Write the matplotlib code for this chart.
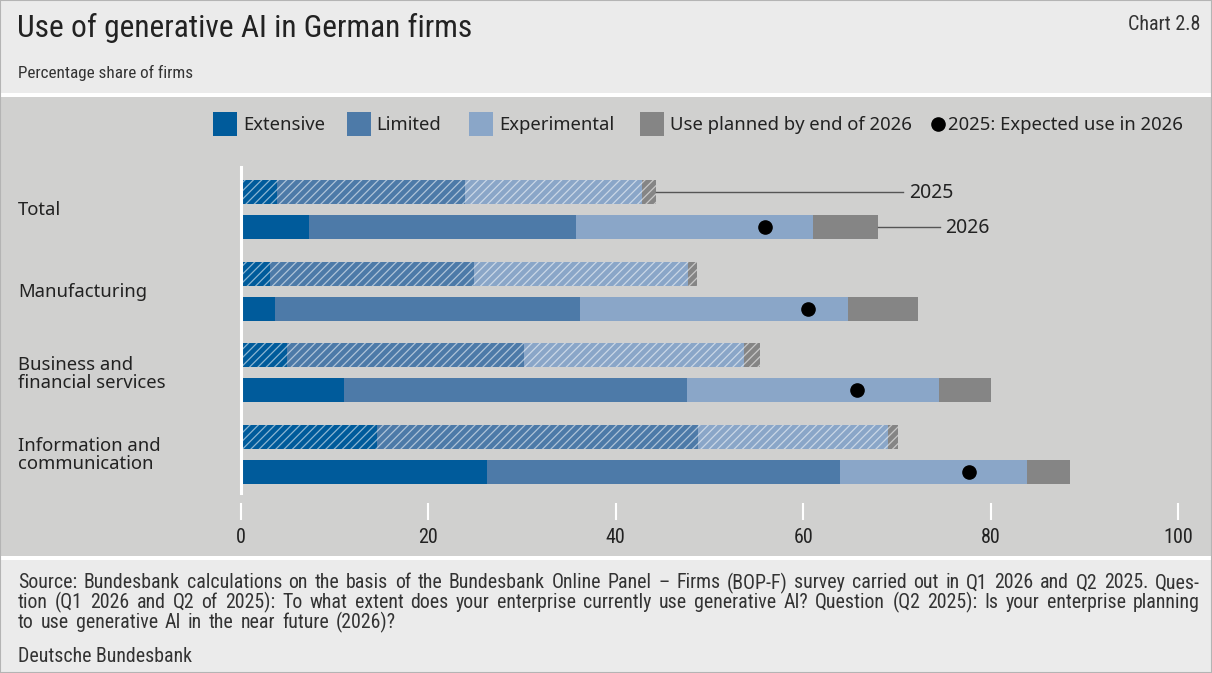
import numpy as np
import matplotlib
matplotlib.use('Agg')
import matplotlib.pyplot as plt
from matplotlib.patches import Rectangle
from matplotlib.transforms import blended_transform_factory

# Sectors and survey waves
sectors = ['Total', 'Manufacturing', 'Business and\nfinancial services',
           'Information and\ncommunication']
years = ['2025', '2026']

# Share of firms per intensity of use (percent), 2025 wave
extensive_2025 = [3.8, 3.1, 4.9, 14.5]
limited_2025 = [20.1, 21.8, 25.3, 34.3]
experimental_2025 = [18.9, 22.8, 23.5, 20.2]
planned_2025 = [1.5, 1.0, 1.7, 1.1]

# 2026 wave
extensive_2026 = [7.3, 3.6, 11.0, 26.3]
limited_2026 = [28.4, 32.6, 36.6, 37.6]
experimental_2026 = [25.3, 28.6, 26.9, 20.0]
planned_2026 = [7.0, 7.4, 5.5, 4.6]

# Expected use in 2026 as stated in the 2025 wave
expected_2026 = [55.9, 60.5, 65.7, 77.7]

series_names = ['Extensive', 'Limited', 'Experimental', 'Use planned by end of 2026']
colors = ['#005b9b', '#4d7aa8', '#8aa6c8', '#858585']

W, H = 1212, 673
BG_LIGHT = '#ebebeb'
BG_PLOT = '#d0d0cf'
TEXT = '#222222'
NARROW = ['Roboto Condensed', 'DejaVu Sans Condensed', 'Liberation Sans Narrow', 'Roboto']
REGULAR = ['Noto Sans', 'DejaVu Sans']
FS = 13.3

plt.rcParams['hatch.linewidth'] = 0.9

fig = plt.figure(figsize=(W / 100, H / 100), dpi=100)
fig.patch.set_facecolor('white')


def fx(px):
    return px / W


def fy(py):
    return 1 - py / H


def band(y0, y1, color):
    fig.add_artist(Rectangle((0, fy(y1)), 1, fy(y0) - fy(y1), transform=fig.transFigure,
                             facecolor=color, edgecolor='none', zorder=-10))


# background panels
band(0, 93, BG_LIGHT)
band(97, 556, BG_PLOT)
band(560, H, BG_LIGHT)
fig.add_artist(Rectangle((0, 0), 1, 1, transform=fig.transFigure, facecolor='none',
                         edgecolor='#b4b4b4', linewidth=1.5, zorder=-5))

# header
fig.text(fx(17), fy(28), 'Use of generative AI in German firms', family=NARROW,
         fontsize=22.7, color=TEXT, va='center', ha='left')
fig.text(fx(1200), fy(25), 'Chart 2.8', family=NARROW, fontsize=14.5,
         color='#333333', va='center', ha='right')
fig.text(fx(18), fy(73), 'Percentage share of firms', family=NARROW, fontsize=12.3,
         color='#333333', va='center', ha='left')

# legend
legend_items = [(213, 243), (347, 376), (469, 499), (640, 670)]
for (sx, tx), name, c in zip(legend_items, series_names, colors):
    fig.add_artist(Rectangle((fx(sx), fy(136)), 24 / W, 24 / H, transform=fig.transFigure,
                             facecolor=c, edgecolor='none'))
    fig.text(fx(tx), fy(125), name, family=REGULAR, fontsize=FS, color=TEXT,
             va='center', ha='left')
fig.add_artist(plt.Line2D([fx(938)], [fy(124)], marker='o', markersize=9.5,
                          color='black', transform=fig.transFigure))
fig.text(fx(948), fy(125), '2025: Expected use in 2026', family=REGULAR,
         fontsize=FS, color=TEXT, va='center', ha='left')

# plot area
ax_top, ax_bottom = 160, 503
ax = fig.add_axes([fx(241), fy(ax_bottom), (1178 - 241) / W, (ax_bottom - ax_top) / H])
ax.set_facecolor('none')

group_px = 81.7
offset = 35 / group_px
bar_h = 24 / group_px
ax.set_xlim(0, 100)
ax.set_ylim((ax_bottom - 192) / group_px, (ax_top - 192) / group_px)

pos = np.arange(len(sectors))
data = {
    '2025': [extensive_2025, limited_2025, experimental_2025, planned_2025],
    '2026': [extensive_2026, limited_2026, experimental_2026, planned_2026],
}
ends = {}
for k, yr in enumerate(years):
    y = pos + k * offset
    left = np.zeros(len(sectors))
    for vals, c in zip(data[yr], colors):
        vals = np.array(vals)
        if yr == '2025':
            ax.barh(y, vals, left=left, height=bar_h, color=c,
                    edgecolor=(1, 1, 1, 0.55), linewidth=0, hatch='////')
        else:
            ax.barh(y, vals, left=left, height=bar_h, color=c, linewidth=0)
        left = left + vals
    ends[yr] = left

ax.plot(expected_2026, pos + offset, 'o', color='black', markersize=9.5, zorder=5)

# year callouts on the first group
for k, (yr, line_end, label_x) in enumerate([('2025', 70.7, 71.3), ('2026', 74.6, 75.2)]):
    yv = pos[0] + k * offset
    ax.plot([ends[yr][0], line_end], [yv, yv], color='#555555', linewidth=1)
    ax.text(label_x, yv + 0.01, yr, family=REGULAR, fontsize=14, color=TEXT,
            va='center', ha='left')

# sector labels
label_tf = blended_transform_factory(fig.transFigure, ax.transData)
for i, name in enumerate(sectors):
    ax.text(fx(18), pos[i] + offset / 2 + 0.01, name, transform=label_tf,
            family=REGULAR, fontsize=FS, color=TEXT, va='center', ha='left',
            linespacing=1.0)

for s in ['top', 'right', 'bottom']:
    ax.spines[s].set_visible(False)
ax.spines['left'].set_color('white')
ax.spines['left'].set_linewidth(2.2)
ax.spines['left'].set_bounds((493 - 192) / group_px, (167 - 192) / group_px)
ax.set_yticks([])
ax.set_xticks(np.arange(0, 101, 20))
ax.tick_params(axis='x', length=12, width=1.5, color='white', pad=6,
               labelsize=14.5, labelcolor=TEXT)
for lab in ax.get_xticklabels():
    lab.set_family(NARROW)

# footer, justified lines (last line keeps the average word gap)
footer_lines = [
    'Source: Bundesbank calculations on the basis of the Bundesbank Online Panel \u2013 '
    'Firms (BOP-F) survey carried out in Q1 2026 and Q2 2025. Ques-',
    'tion (Q1 2026 and Q2 of 2025): To what extent does your enterprise currently use '
    'generative AI? Question (Q2 2025): Is your enterprise planning',
    'to use generative AI in the near future (2026)?',
]
FOOT = 14.3
renderer = fig.canvas.get_renderer()
x0, x1 = 18, 1200
gaps = []
for i, line in enumerate(footer_lines):
    y = fy(583 + i * 19.5)
    words = line.split(' ')
    items = [fig.text(0, y, w, family=NARROW, fontsize=FOOT, color='#333333', va='center')
             for w in words]
    widths = [t.get_window_extent(renderer).width for t in items]
    if i < len(footer_lines) - 1:
        gap = max((x1 - x0 - sum(widths)) / (len(words) - 1), 3)
        gaps.append(gap)
    else:
        gap = np.mean(gaps)
    x = x0
    for t, w in zip(items, widths):
        t.set_x(fx(x))
        x += w + gap
fig.text(fx(18), fy(656), 'Deutsche Bundesbank', family=NARROW, fontsize=FOOT,
         color='#333333', va='center')

fig.savefig('out.png', dpi=100, facecolor=fig.get_facecolor())
